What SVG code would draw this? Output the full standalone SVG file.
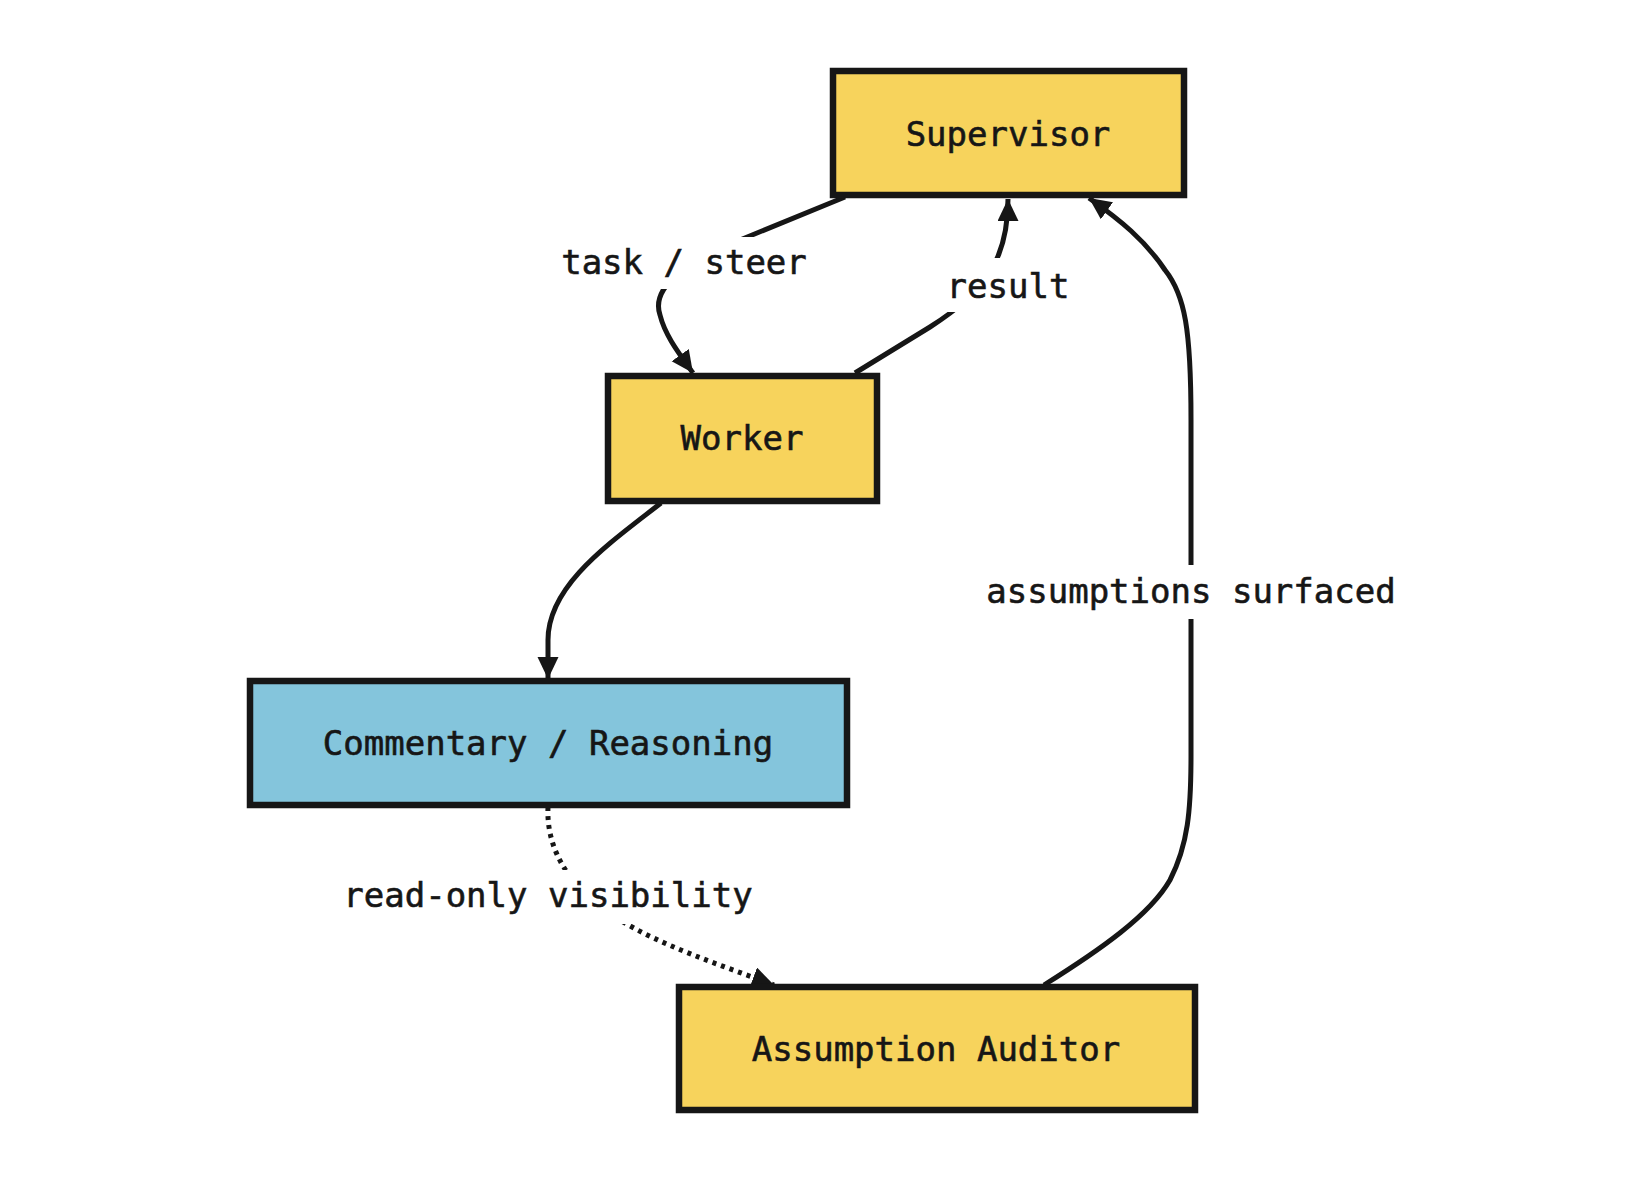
<svg xmlns="http://www.w3.org/2000/svg" width="1646" height="1181" viewBox="0 0 1646 1181">
<style>
.node{stroke:#161616;stroke-width:6.5}
.y{fill:#F7D35C}
.b{fill:#84C5DC}
.t{font-family:"DejaVu Sans Mono","Liberation Mono",monospace;font-size:34px;fill:#161616;stroke:#161616;stroke-width:0.6;text-anchor:middle;dominant-baseline:central}
.e{fill:none;stroke:#161616;stroke-width:5}
.dot{stroke-dasharray:4 5}
.lb{fill:#ffffff}
</style>
<defs>
<marker id="arr" markerUnits="userSpaceOnUse" markerWidth="26" markerHeight="24" refX="22" refY="10.5" orient="auto">
<path d="M0,0 L22,10.5 L0,21 z" fill="#161616"/>
</marker>
</defs>
<rect width="1646" height="1181" fill="#ffffff"/>
<g id="connectors">
<path class="e" d="M845,197 L740,240 C690,262 650,285 660,315 C665,335 678,352 693,373" marker-end="url(#arr)"/>
<path class="e" d="M855,373 L930,327 C985,292 1008,260 1008,199" marker-end="url(#arr)"/>
<path class="e" d="M661,503 C610,543 548,585 548,640 L548,679" marker-end="url(#arr)"/>
<path class="e dot" d="M548,807 C546,850 570,890 620,920 C660,945 720,965 774,985" marker-end="url(#arr)"/>
<path class="e" d="M1044,985 C1100,950 1150,915 1170,880 C1188,845 1191,810 1191,756 L1191,420 C1191,330 1185,295 1165,270 C1145,240 1120,220 1089,198" marker-end="url(#arr)"/>
<rect class="lb" x="555" y="237" width="260" height="52"/>
<text class="t" x="684" y="262">task / steer</text>
<rect class="lb" x="940" y="258" width="135" height="54"/>
<text class="t" x="1008" y="286">result</text>
<rect class="lb" x="982" y="565" width="419" height="54"/>
<text class="t" x="1191" y="591">assumptions surfaced</text>
<rect class="lb" x="336" y="870" width="422" height="54"/>
<text class="t" x="548" y="895">read-only visibility</text>
</g>
<g id="supervisor">
<rect class="node y" x="833" y="71" width="351" height="124"/>
<text class="t" x="1008" y="134">Supervisor</text>
</g>
<g id="worker">
<rect class="node y" x="608" y="376" width="269" height="125"/>
<text class="t" x="742" y="438">Worker</text>
</g>
<g id="commentary">
<rect class="node b" x="250" y="681" width="597" height="124"/>
<text class="t" x="548" y="743">Commentary / Reasoning</text>
</g>
<g id="auditor">
<rect class="node y" x="679" y="987" width="516" height="123"/>
<text class="t" x="936" y="1049">Assumption Auditor</text>
</g>
</svg>
